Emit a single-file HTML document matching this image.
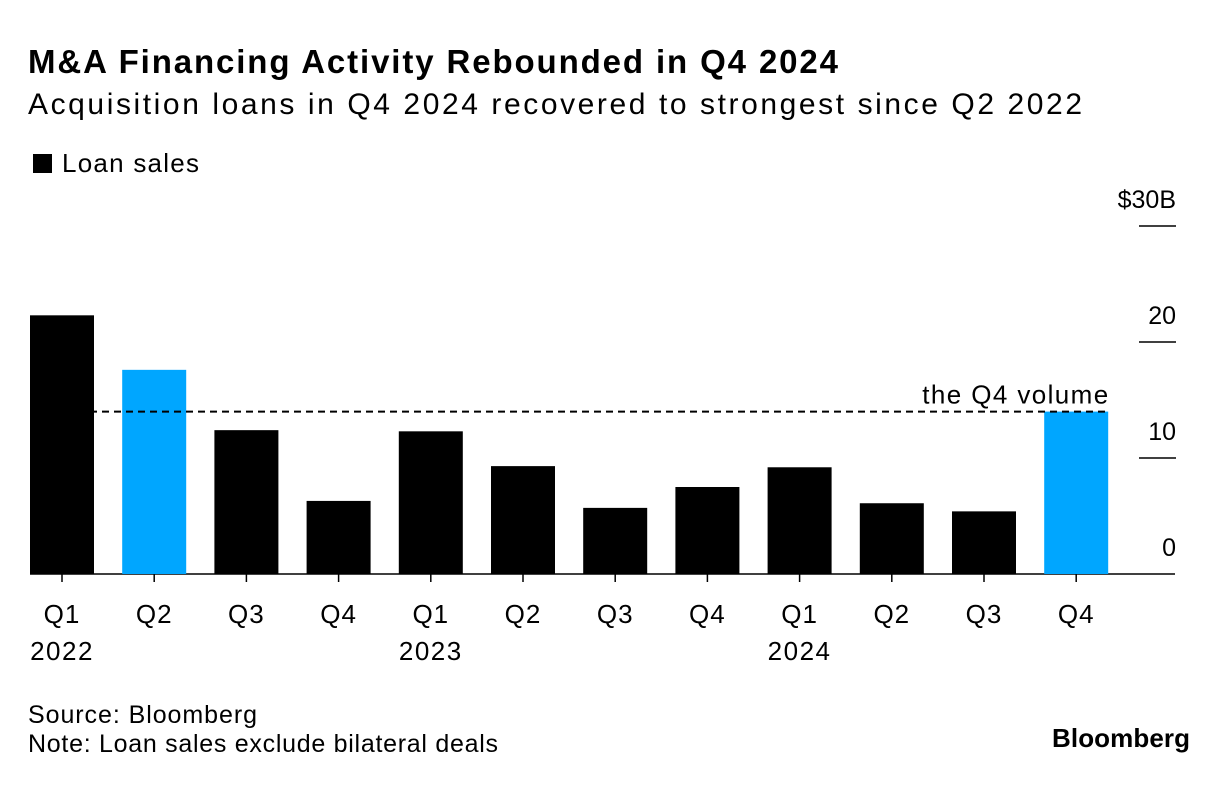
<!DOCTYPE html>
<html><head><meta charset="utf-8"><style>
body{margin:0;background:#fff;font-family:"Liberation Sans",Arial,sans-serif;}
svg text{font-family:"Liberation Sans",Arial,sans-serif;}
</style></head><body>
<svg width="1230" height="798" viewBox="0 0 1230 798">
<text x="28" y="73" font-size="33" font-weight="bold" textLength="810">M&amp;A Financing Activity Rebounded in Q4 2024</text>
<text x="28" y="114" font-size="30" textLength="1054">Acquisition loans in Q4 2024 recovered to strongest since Q2 2022</text>
<rect x="33" y="154" width="19" height="19" fill="#000"/>
<text x="62" y="172" font-size="26" textLength="137">Loan sales</text>
<g id="axis"></g>
<g id="bars"></g>
<text x="28" y="723" font-size="25" textLength="229">Source: Bloomberg</text>
<text x="28" y="752" font-size="25" textLength="470">Note: Loan sales exclude bilateral deals</text>
<text x="1190" y="747" font-size="26" font-weight="bold" text-anchor="end" textLength="138">Bloomberg</text>
</svg>
<script>
const categories=["Q1","Q2","Q3","Q4","Q1","Q2","Q3","Q4","Q1","Q2","Q3","Q4"];
const years=["2022","","","","2023","","","","2024","","",""];
const values=[22.3,17.6,12.4,6.3,12.3,9.3,5.7,7.5,9.2,6.1,5.4,14.0];
const highlight=[false,true,false,false,false,false,false,false,false,false,false,true];
const ticks=[0,10,20,30];
const tickLabels=["0","10","20","$30B"];
const refValue=14.0;
const NS="http://www.w3.org/2000/svg";
const y=v=>574-v*11.6;
const x=i=>30+i*92.2;
const bw=64;
function mk(t,a,p){const e=document.createElementNS(NS,t);for(const k in a)e.setAttribute(k,a[k]);p.appendChild(e);return e;}
const ax=document.getElementById('axis'),bg=document.getElementById('bars');
ticks.forEach((t,i)=>{
 if(t>0){const l=mk('line',{x1:1139,x2:1176,y1:y(t),y2:y(t),stroke:'#000','stroke-width':1.5},ax);
 
 }
 const tx=mk('text',{x:1176,y:y(t)-18,'font-size':25,'text-anchor':'end'},ax);tx.textContent=tickLabels[i];
 
 
});
values.forEach((v,i)=>{
 const r=mk('rect',{x:x(i),y:y(v),width:bw,height:574-y(v),fill:highlight[i]?'#00a6ff':'#000'},bg);
 
 
 const c=x(i)+bw/2;
 const tk=mk('line',{x1:c,x2:c,y1:574,y2:582,stroke:'#000','stroke-width':1.5},ax);
 
 
 const t=mk('text',{x:c,y:623,'font-size':26,'text-anchor':'middle','letter-spacing':1},ax);t.textContent=categories[i];
 
 
 if(years[i]){const yt=mk('text',{x:c,y:660,'font-size':26,'text-anchor':'middle','letter-spacing':1.5},ax);yt.textContent=years[i];
 
 }
});
const base=mk('line',{x1:30,x2:1175,y1:574,y2:574,stroke:'#000','stroke-width':1.5},ax);


const ref=mk('line',{x1:30,x2:x(11)+bw,y1:y(refValue),y2:y(refValue),stroke:'#000','stroke-width':2,'stroke-dasharray':'7,5'},bg);


const rl=mk('text',{x:x(11)+bw,y:y(refValue)-8,'font-size':26,'text-anchor':'end',textLength:186},bg);rl.textContent='the Q4 volume';


</script>
</body></html>
